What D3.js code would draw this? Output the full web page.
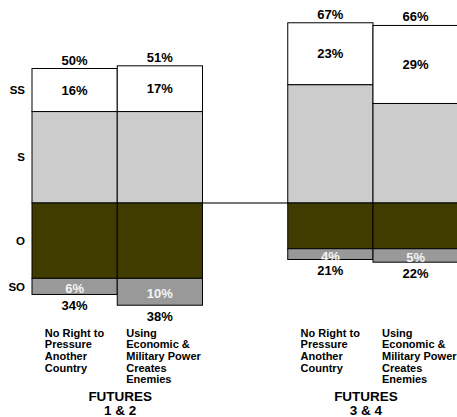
<!DOCTYPE html>
<html>
<head>
<meta charset="utf-8">
<script src="https://cdn.jsdelivr.net/npm/d3@7/dist/d3.min.js"></script>
<style>
  html, body { margin: 0; padding: 0; background: #fff; overflow: hidden; }
  svg { display: block; font-family: "Liberation Sans", Arial, sans-serif; font-weight: bold; }
</style>
</head>
<body>
<svg id="chart" width="457" height="417"></svg>
<script>
// Statements, one bar each
const statements = [
  ["No Right to", "Pressure", "Another", "Country"],
  ["Using", "Economic &", "Military Power", "Creates", "Enemies"],
  ["No Right to", "Pressure", "Another", "Country"],
  ["Using", "Economic &", "Military Power", "Creates", "Enemies"]
];
const futures = [["FUTURES", "1 & 2"], ["FUTURES", "3 & 4"]];

// Shares in percent: strongly support, support, oppose, strongly oppose
const ssValues = [16, 17, 23, 29];
const sValues  = [34, 34, 44, 37];
const oValues  = [28, 28, 17, 17];
const soValues = [6, 10, 4, 5];
const supportTotals = [50, 51, 67, 66];
const opposeTotals  = [34, 38, 21, 22];
const rowLabels = ["SS", "S", "O", "SO"];

const svg = d3.select("#chart");

// Five slots: two bars, an empty gap, two bars
const slots = ["b0", "b1", "gap", "b2", "b3"];
const barSlot = ["b0", "b1", "b2", "b3"];
const x = d3.scaleBand().domain(slots).range([32, 458.25]).paddingInner(0).paddingOuter(0);

const k = 2.69;
const y0 = 203;
const y = d3.scaleLinear().domain([-40, 75]).range([y0 + 40 * k, y0 - 75 * k]);

const rows = barSlot.map((id, i) => ({
  id,
  s: sValues[i],
  ss: ssValues[i],
  o: -oValues[i],
  so: -soValues[i]
}));

const keys = ["s", "ss", "o", "so"];
const colors = { ss: "#ffffff", s: "#cccccc", o: "#403c00", so: "#999999" };

const series = d3.stack().keys(keys).offset(d3.stackOffsetDiverging)(rows);

// Zero line through the gap between the two groups
svg.append("line")
  .attr("x1", x("b1") + x.bandwidth())
  .attr("x2", x("b2"))
  .attr("y1", y(0)).attr("y2", y(0))
  .attr("stroke", "#4a4a4a").attr("stroke-width", 1.5);

const g = svg.append("g");
series.forEach(s => {
  g.selectAll(null).data(s).join("rect")
    .attr("x", d => x(d.data.id))
    .attr("width", x.bandwidth())
    .attr("y", d => y(Math.max(d[0], d[1])))
    .attr("height", d => Math.abs(y(d[0]) - y(d[1])))
    .attr("fill", colors[s.key])
    .attr("stroke", "#000")
    .attr("stroke-width", 1);
});

const ssSeries = series.find(s => s.key === "ss");
const soSeries = series.find(s => s.key === "so");

// Strongly-support share inside the white segment
g.selectAll(null).data(ssSeries).join("text")
  .attr("x", d => x(d.data.id) + x.bandwidth() / 2)
  .attr("y", d => (y(d[0]) + y(d[1])) / 2)
  .attr("dy", "0.36em")
  .attr("text-anchor", "middle")
  .attr("font-size", 13)
  .attr("fill", "#000")
  .text(d => d.data.ss + "%");

// Strongly-oppose share in white
g.selectAll(null).data(soSeries).join("text")
  .attr("x", d => x(d.data.id) + x.bandwidth() / 2)
  .attr("y", d => (y(d[0]) + y(d[1])) / 2 + 2)
  .attr("dy", "0.36em")
  .attr("text-anchor", "middle")
  .attr("font-size", 13)
  .attr("fill", "#f4f4f4")
  .text(d => -d.data.so + "%");

// Totals above and below each bar
g.selectAll(null).data(barSlot).join("text")
  .attr("x", d => x(d) + x.bandwidth() / 2)
  .attr("y", (d, i) => y(supportTotals[i]) - 4)
  .attr("text-anchor", "middle")
  .attr("font-size", 13)
  .text((d, i) => supportTotals[i] + "%");

g.selectAll(null).data(barSlot).join("text")
  .attr("x", d => x(d) + x.bandwidth() / 2)
  .attr("y", (d, i) => y(-opposeTotals[i]) + 15.5)
  .attr("text-anchor", "middle")
  .attr("font-size", 13)
  .text((d, i) => opposeTotals[i] + "%");

// Row labels beside the first bar's segments
const first = keys.map((key, i) => {
  const s = series.find(t => t.key === key);
  return { key, mid: (y(s[0][0]) + y(s[0][1])) / 2 };
});
const labelFor = { s: rowLabels[1], ss: rowLabels[0], o: rowLabels[2], so: rowLabels[3] };
svg.selectAll(null).data(first).join("text")
  .attr("x", 25)
  .attr("y", d => d.mid)
  .attr("dy", "0.36em")
  .attr("text-anchor", "end")
  .attr("font-size", 11.5)
  .text(d => labelFor[d.key]);

// Statement text under each bar, a left-aligned block centred on the bar
const nudge = [0, 4, 0, 4];
barSlot.forEach((id, i) => {
  const t = svg.append("text").attr("font-size", 11).attr("y", 336.5);
  statements[i].forEach((line, j) => {
    t.append("tspan").attr("x", 0).attr("dy", j === 0 ? 0 : 11.7).text(line);
  });
  const w = t.node().getBBox().width;
  const left = x(id) + x.bandwidth() / 2 - w / 2 + nudge[i];
  t.selectAll("tspan").attr("x", left);
});

// Group titles
const titleX = [x("b1") + 3, x("b3") - 7];
futures.forEach((lines, i) => {
  const t = svg.append("text")
    .attr("font-size", 13.5)
    .attr("text-anchor", "middle")
    .attr("y", 401);
  lines.forEach((line, j) => {
    t.append("tspan").attr("x", titleX[i]).attr("dy", j === 0 ? 0 : 14).text(line);
  });
});
</script>
</body>
</html>
